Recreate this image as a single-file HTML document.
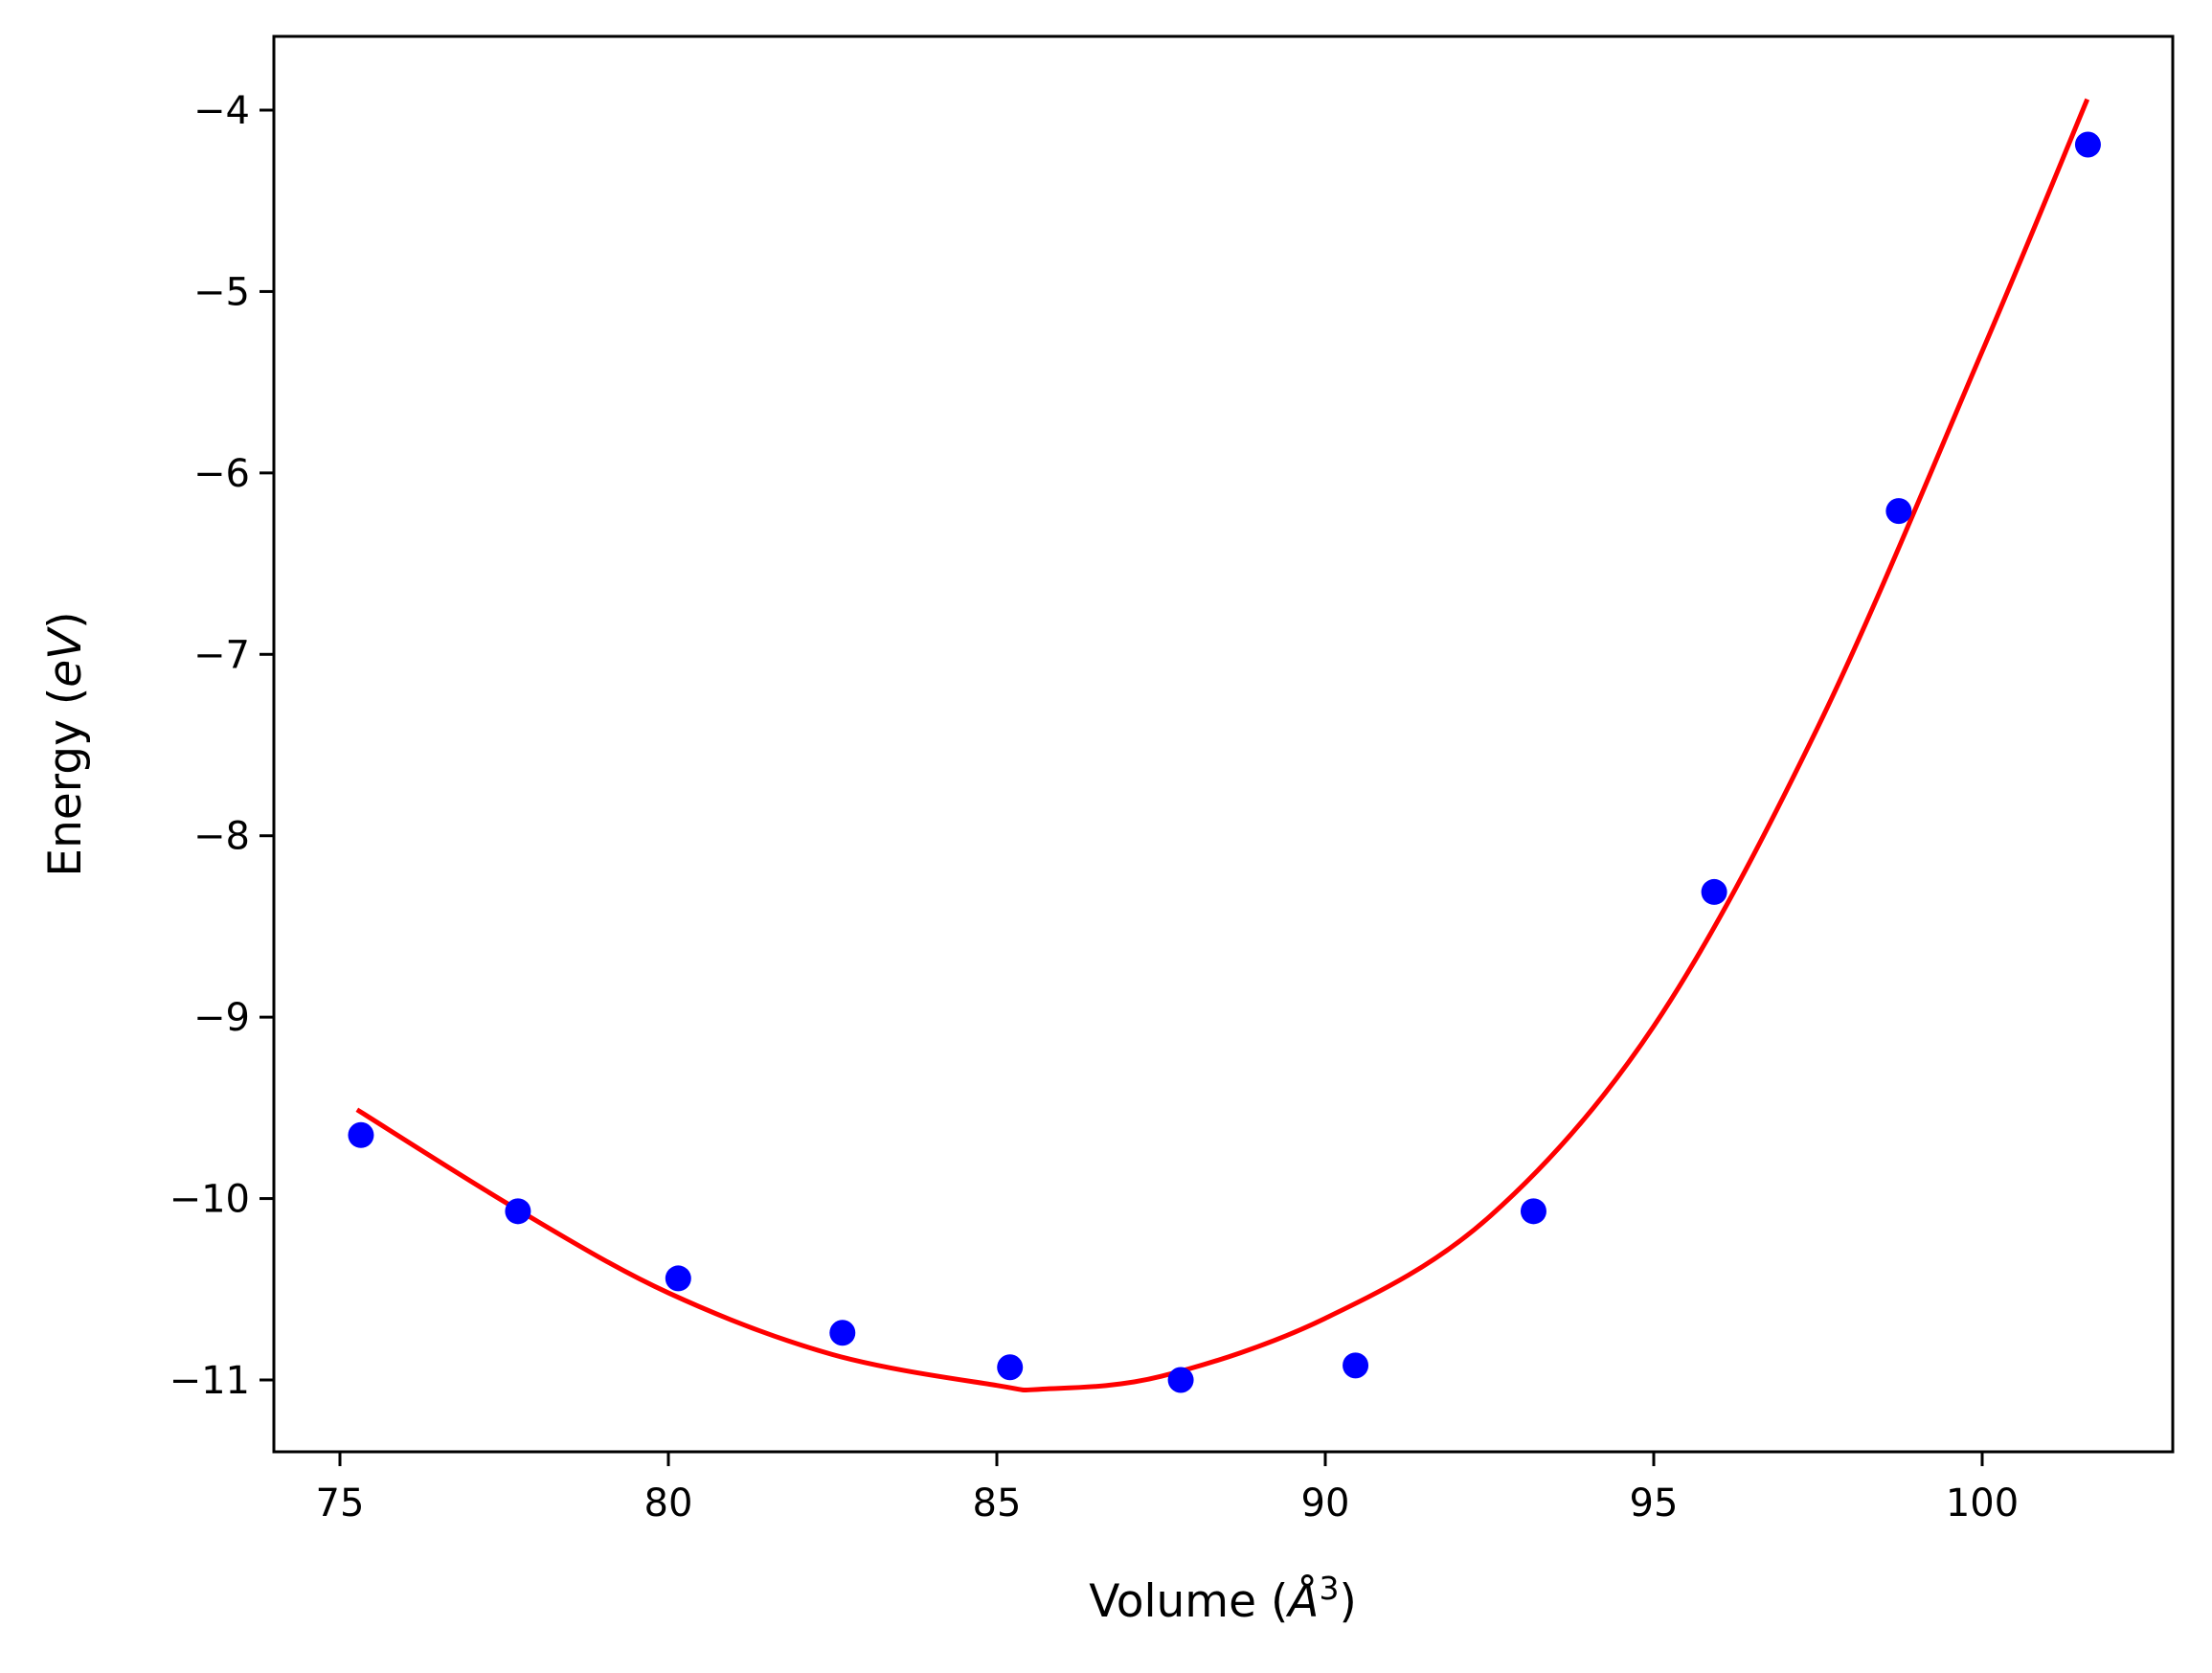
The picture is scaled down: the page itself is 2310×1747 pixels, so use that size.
<!DOCTYPE html>
<html><head><meta charset="utf-8"><style>
html,body{margin:0;padding:0;background:#fff;}
svg{display:block;font-family:"DejaVu Sans","Liberation Sans",sans-serif;}
</style></head><body>
<svg id="chart" width="2310" height="1747" viewBox="0 0 2310 1747" xmlns="http://www.w3.org/2000/svg">
<rect width="2310" height="1747" fill="#fff"/>
<g id="plot"></g>
<text x="1277" y="1688" font-size="47" text-anchor="middle">Volume (<tspan font-style="italic">Å</tspan><tspan font-size="33" dy="-18">3</tspan><tspan dy="18">)</tspan></text>
<text transform="translate(84,777) rotate(-90)" font-size="47" text-anchor="middle">Energy (<tspan font-style="italic">eV</tspan>)</text>
</svg>
<script>
const volumes = [75.32, 77.71, 80.15, 82.65, 85.20, 87.80, 90.46, 93.17, 95.92, 98.73, 101.61];
const energies = [-9.65, -10.07, -10.44, -10.74, -10.93, -11.00, -10.92, -10.07, -8.31, -6.21, -4.19];
const fitVolumes = [75.26, 77.7, 80, 82.5, 85, 85.7, 87.5, 90, 92.5, 95, 97.5, 100, 101.6];
const fitEnergies = [-9.51, -10.06, -10.52, -10.86, -11.03, -11.05, -10.98, -10.66, -10.1, -9.05, -7.4, -5.33, -3.94];
const xTicks = [75, 80, 85, 90, 95, 100];
const yTicks = [-4, -5, -6, -7, -8, -9, -10, -11];

const L=286, R=2269, T=38, B=1516;
const X = v => 355 + (v - 75) * (2070 - 355) / 25;
const Y = e => 115 + (-4 - e) * (1441 - 115) / 7;
const NS="http://www.w3.org/2000/svg";
const g=document.getElementById('plot');
function mk(tag, attrs){const e=document.createElementNS(NS,tag);for(const k in attrs)e.setAttribute(k,attrs[k]);g.appendChild(e);return e;}

// fit curve (Catmull-Rom smoothing)
const pts=fitVolumes.map((v,i)=>[X(v),Y(fitEnergies[i])]);
let d=`M${pts[0][0]},${pts[0][1]}`;
for(let i=0;i<pts.length-1;i++){
  const p0=pts[Math.max(0,i-1)],p1=pts[i],p2=pts[i+1],p3=pts[Math.min(pts.length-1,i+2)];
  const c1=[p1[0]+(p2[0]-p0[0])/6,p1[1]+(p2[1]-p0[1])/6];
  const c2=[p2[0]-(p3[0]-p1[0])/6,p2[1]-(p3[1]-p1[1])/6];
  d+=` C${c1[0]},${c1[1]} ${c2[0]},${c2[1]} ${p2[0]},${p2[1]}`;
}
const line=mk('path',{d:d,fill:'none',stroke:'#ff0000','stroke-width':5});



volumes.forEach((v,i)=>{
  const c=mk('circle',{cx:X(v),cy:Y(energies[i]),r:13.5,fill:'#0000ff'});
  
  
});

const frame=mk('rect',{x:L,y:T,width:R-L,height:B-T,fill:'none',stroke:'#000','stroke-width':3});



xTicks.forEach(t=>{
  const x=X(t);
  const tk=mk('line',{x1:x,x2:x,y1:B,y2:B+15,stroke:'#000','stroke-width':3});
  
  
  const lb=mk('text',{x:x,y:B+67,'font-size':40,'text-anchor':'middle'});
  lb.textContent=String(t);
  
  
});
yTicks.forEach(t=>{
  const y=Y(t);
  const tk=mk('line',{x1:L-15,x2:L,y1:y,y2:y,stroke:'#000','stroke-width':3});
  
  
  const lb=mk('text',{x:L-25,y:y+14,'font-size':40,'text-anchor':'end'});
  lb.textContent='\u2212'+Math.abs(t);
  
  
});
</script>
</body></html>
